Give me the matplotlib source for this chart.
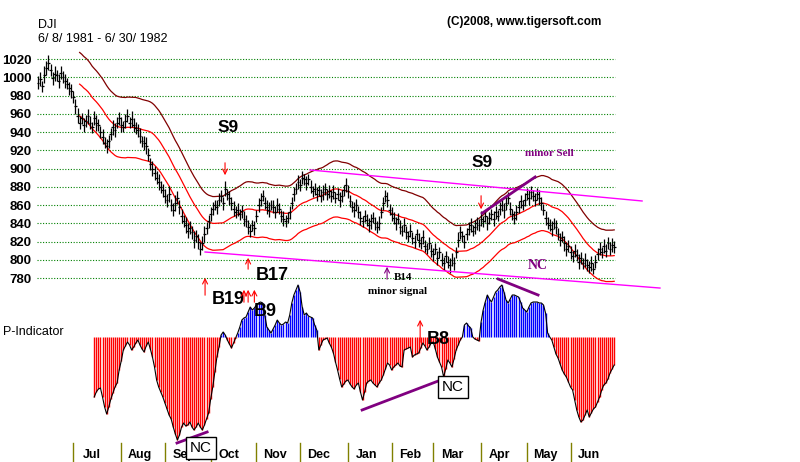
# %%
import numpy as np
import pandas as pd
import matplotlib
matplotlib.use('Agg')
import matplotlib.pyplot as plt

# %%
# DJI daily closes, 6/8/1981 - 6/30/1982
close = [994, 998, 990, 1003, 1010,
         1016, 1008, 999, 1004, 1002, 996, 1005,
         1000, 996, 993, 988, 985, 978,
         968, 958, 950, 955, 948,
         952, 957, 950, 945, 955, 950, 948, 940,
         935, 928, 925, 930, 938, 945,
         942, 950, 955, 948, 946, 952, 958, 950, 954, 948, 944,
         942, 936, 930, 928, 925, 915, 905,
         900, 895, 890, 885, 880, 876,
         870, 865, 872, 860, 855, 862,
         868, 858, 848, 842,
         838, 832, 835, 830, 822, 826,
         820, 812, 818, 828,
         835, 842, 850, 856, 860, 858,
         866, 870, 862, 878, 872, 868,
         862, 856, 852, 855, 850, 853,
         845, 842, 836, 832, 838, 835,
         848, 860, 866, 870, 862, 858,
         855, 860, 858, 852, 860, 856,
         848, 845, 842, 846, 852, 862,
         872, 878, 885, 882, 890, 888,
         884, 888, 880, 875, 878, 872,
         876, 870, 874, 878, 872, 875,
         870, 874, 868, 872, 866, 870,
         876, 882, 875, 864, 858, 855,
         860, 852, 846, 842, 848, 844,
         838, 842, 846, 840, 836, 840,
         852, 862, 870, 866, 855, 850,
         846, 840, 845, 836, 832, 838,
         830, 826, 832, 824, 820, 828,
         822, 818, 825, 815, 812, 818,
         810, 806, 812, 802, 808, 800,
         796, 804, 798, 794, 800, 796,
         808, 822, 830, 826, 820, 828,
         834, 838, 832, 836, 840, 838,
         845, 842, 848, 840, 846, 850,
         845, 852, 848, 856, 860, 854,
         862, 868, 856, 850, 846, 852,
         858, 864, 860, 866, 872, 868,
         874, 870, 866, 872, 868, 862,
         855, 846, 840, 838, 834, 840,
         836, 828, 822, 825, 818, 812,
         815, 808, 804, 810, 805, 798,
         802, 796, 800, 794, 792, 796,
         790, 798, 806, 812, 808, 815,
         810, 818, 812, 816, 814]

# daily high-low range (points)
day_range = [14, 16, 12, 18, 15, 17, 13, 14, 16, 12, 15, 14, 13, 16, 12, 14, 15, 13, 17, 16,
             14, 12, 15, 13, 16, 14, 12, 15, 17, 13, 14, 16, 12, 15, 14, 13, 17, 15, 12, 14,
             16, 13, 15, 14, 12, 17, 15, 13, 14, 16, 12, 15, 18, 14, 13, 16, 15, 14, 17, 13,
             15, 16, 14, 18, 13, 15, 17, 14, 16, 15, 13, 17, 16, 14, 15, 18, 13, 16, 14, 15,
             17, 13, 15, 16, 14, 12, 16, 15, 13, 14, 17, 12, 15, 14, 16, 13, 15, 12, 14, 16,
             13, 15, 14, 12, 16, 13, 15, 14, 12, 13, 15, 16, 12, 14, 13, 15, 12, 14, 16, 13,
             12, 14, 13, 15, 12, 16, 13, 14, 12, 15, 13, 14, 12, 13, 15, 12, 14, 16, 13, 12,
             14, 13, 15, 12, 14, 16, 13, 12, 15, 14, 13, 12, 16, 14, 13, 15, 12, 14, 13, 15,
             16, 12, 14, 13, 15, 12, 14, 13, 16, 12, 15, 13, 14, 12, 15, 13, 16, 14, 12, 15,
             13, 14, 12, 15, 13, 16, 14, 12, 13, 15, 14, 12, 16, 13, 14, 15, 12, 13, 16, 14,
             15, 13, 16, 14, 12, 15, 13, 14, 16, 12, 15, 14, 13, 16, 12, 14, 15, 13, 12, 16,
             14, 12, 15, 13, 16, 14, 13, 15, 12, 14, 16, 13, 15, 12, 14, 13, 16, 14, 12, 15,
             13, 16, 14, 12, 15, 13, 14, 16, 12, 15, 13, 14, 12, 16, 15, 13, 14, 12, 15, 13,
             16, 14, 12, 15, 13, 14, 16, 12, 15, 13, 14, 12, 16, 15, 13, 14, 15, 13]

# P-Indicator, starts on trading day 27
p_start = 27
p_ind = [-60, -55, -52, -51, -60, -70, -77, -70, -62, -56,
         -50, -46, -33, -24, -13, -9, -5, -8, -13, -10,
         -6, -3, -8, -12, -15, -9, -5, -12, -20, -30,
         -43, -50, -55, -60, -66, -72, -78, -82, -90, -97,
         -103, -98, -90, -86, -89, -88, -85, -90, -93, -90,
         -86, -90, -93, -88, -82, -76, -62, -50, -35, -20,
         -10, 2, 5, 2, -3, -7, -11, -6, -1, 4,
         10, 17, 19, 20, 25, 30, 27, 29, 32, 34,
         35, 34, 22, 10, 7, 4, 8, 12, 17, 14,
         12, 13, 15, 14, 22, 34, 42, 47, 52, 45,
         30, 22, 24, 21, 20, 19, 12, 7, -13, -8,
         -3, -2, -1, -6, -10, -16, -25, -33, -42, -50,
         -47, -44, -43, -47, -50, -52, -48, -46, -55, -63,
         -55, -46, -44, -43, -46, -48, -50, -46, -43, -38,
         -32, -26, -28, -33, -30, -28, -26, -29, -30, -13,
         -12, -11, -10, -20, -18, -17, -16, -11, -6, -9,
         -13, -10, -6, -5, -12, -20, -25, -30, -40, -32,
         -23, -26, -30, -22, -13, -8, -3, 0, 12, 14,
         11, 9, 0, -2, -3, -4, 15, 27, 35, 42,
         38, 35, 40, 45, 47, 50, 52, 45, 37, 34,
         38, 42, 42, 41, 40, 35, 29, 27, 25, 30,
         34, 35, 35, 35, 34, 34, 32, 24, 4, 0,
         -3, -10, -17, -21, -27, -33, -37, -40, -45, -50,
         -53, -63, -73, -80, -85, -83, -78, -73, -80, -76,
         -72, -70, -65, -60, -53, -48, -46, -42, -36, -32,
         -28]

# trend lines (day index, price / indicator value)
upper_trend_x, upper_trend_y = [130.8, 290.4], [898.4, 864.4]
lower_trend_x, lower_trend_y = [80.3, 299.0], [808.5, 769.0]
price_nc_x, price_nc_y = [213.5, 239.0], [851.0, 890.7]
ind_nc_lines = [([66.8, 81.3], [-106, -95]),
                ([155.8, 196.2], [-73, -41]),
                ([221.2, 240.4], [58, 42])]

levels = list(range(780, 1021, 20))

# %%
n = min(len(close), len(day_range))
close = np.array(close[:n], dtype=float)
rng = np.array(day_range[:n], dtype=float)
high = close + rng * 0.5
low = close - rng * 0.5
idx = np.arange(n)
dates = pd.bdate_range('1981-06-08', periods=n)

ma = pd.Series(close).rolling(21).mean()
band_up = ma * 1.035
band_dn = ma * 0.965

ind = np.full(n, np.nan)
m = min(len(p_ind), n - p_start)
ind[p_start:p_start + m] = p_ind[:m]

month_start = [i for i in range(1, n) if dates[i].month != dates[i - 1].month]

# %%
W, H = 800, 462
fig = plt.figure(figsize=(8, 4.62), dpi=100)
fig.patch.set_facecolor('white')


def frac(x0, y0, x1, y1):
    return [x0 / W, 1 - y1 / H, (x1 - x0) / W, (y1 - y0) / H]


xlim = (-0.5, -0.5 + 628 / 2.08)
sans = 'Liberation Sans'
serif = 'Liberation Serif'
purple = '#800080'

ax = fig.add_axes(frac(37, 40.75, 665, 296.25))
ax.set_xlim(*xlim)
ax.set_ylim(760, 1040)
ax.patch.set_alpha(0)
for s in ax.spines.values():
    s.set_visible(False)
ax.set_xticks([])
ax.set_yticks(levels)
ax.set_yticklabels([str(v) for v in levels], fontsize=9.5, fontweight='bold', family=sans)
ax.tick_params(axis='y', length=0, pad=4)

# grid
ax.hlines(levels, -0.5, n - 0.5, colors='#008000', linestyles=(0, (1, 1.5)), lw=0.8)

# bands
ax.plot(idx, band_up, color='#800000', lw=0.9)
ax.plot(idx, ma, color='#ff0000', lw=0.9)
ax.plot(idx, band_dn, color='#ff0000', lw=0.9)

# price bars
ax.vlines(idx, low, high, colors='black', lw=0.9)
ax.hlines(close, idx - 0.7, idx + 0.7, colors='black', lw=0.9)

# trend lines
ax.plot(upper_trend_x, upper_trend_y, color='#ff00ff', lw=1)
ax.plot(lower_trend_x, lower_trend_y, color='#ff00ff', lw=1)
ax.plot(price_nc_x, price_nc_y, color=purple, lw=2)

# signal labels on price panel
ax.text(91.3, 944.4, 'S9', fontsize=12.5, fontweight='bold', family=sans, ha='center', va='center')
ax.text(213.5, 907, 'S9', fontsize=12.5, fontweight='bold', family=sans, ha='center', va='center')
ax.text(234.1, 915.9, 'minor Sell', fontsize=8, fontweight='bold', family=serif, color=purple,
        ha='left', va='center')
ax.text(112.5, 782.2, 'B17', fontsize=13, fontweight='bold', family=sans, ha='center', va='center')
ax.text(175.5, 781, 'B14', fontsize=8, fontweight='bold', family=serif, ha='center', va='center')
ax.text(173, 764.7, 'minor signal', fontsize=8, fontweight='bold', family=serif, ha='center', va='center')
ax.text(240.4, 793.2, 'NC', fontsize=10, fontweight='bold', family=serif, color=purple,
        ha='center', va='center')

arr = dict(arrowstyle='->', color='red', lw=0.8, mutation_scale=9)
ax.annotate('', xy=(89.9, 889.6), xytext=(89.9, 909.3), arrowprops=arr, annotation_clip=False)
ax.annotate('', xy=(213, 852.3), xytext=(213, 873.2), arrowprops=arr, annotation_clip=False)
ax.annotate('', xy=(101, 805.2), xytext=(101, 786.6), arrowprops=arr, annotation_clip=False)
ax.annotate('', xy=(80.3, 783.3), xytext=(80.3, 758.1), arrowprops=arr, annotation_clip=False)
ax.annotate('', xy=(167.8, 795.3), xytext=(167.8, 775.6),
            arrowprops=dict(arrowstyle='->', color=purple, lw=0.8, mutation_scale=9),
            annotation_clip=False)

# %%
ax2 = fig.add_axes(frac(37, 270, 665, 462))
ax2.set_xlim(*xlim)
ax2.set_ylim(-125, 67)
ax2.axis('off')

ok = ~np.isnan(ind)
cols = np.where(ind[ok] > 0, '#0000ff', '#ff0000')
ax2.vlines(idx[ok], 0, ind[ok], colors=cols, lw=1.0)
ax2.plot(idx[ok], ind[ok], color='black', lw=0.8)

for xs, ys in ind_nc_lines:
    ax2.plot(xs, ys, color=purple, lw=2)

for i in month_start:
    ax2.plot([i, i], [-106, -125], color='#808000', lw=1)
    ax2.text(i + 9, -118, dates[i].strftime('%b'), fontsize=9, fontweight='bold', family=sans,
             ha='center', va='center')

ax2.text(91.3, 37, 'B19', fontsize=13, fontweight='bold', family=sans, ha='center', va='center')
for xa in [99.0, 101.0, 104.0]:
    ax2.annotate('', xy=(xa, 50), xytext=(xa, 32), arrowprops=arr, annotation_clip=False)
ax2.text(109.1, 25, 'B9', fontsize=13, fontweight='bold', family=sans, ha='center', va='center')
ax2.annotate('', xy=(183.7, 20), xytext=(183.7, -8), arrowprops=arr, annotation_clip=False)
ax2.text(192.3, -3, 'B8', fontsize=13, fontweight='bold', family=sans, ha='center', va='center')

box = dict(boxstyle='square,pad=0.25', fc='white', ec='black', lw=1)
ax2.text(78.4, -111, 'NC', fontsize=11, family=sans, ha='center', va='center', bbox=box, zorder=5)
ax2.text(199.5, -50, 'NC', fontsize=11, family=sans, ha='center', va='center', bbox=box, zorder=5)

# %%
fig.text(38 / W, 1 - 25 / H, 'DJI', fontsize=9, family=sans, va='center')
fig.text(38 / W, 1 - 39.5 / H, '6/ 8/ 1981 - 6/ 30/ 1982', fontsize=9, family=sans, va='center')
fig.text(447 / W, 1 - 22 / H, '(C)2008, www.tigersoft.com', fontsize=8.5, fontweight='bold',
         family=sans, va='center')
fig.text(3 / W, 1 - 332 / H, 'P-Indicator', fontsize=9, family=sans, va='center')

fig.savefig('out.png', dpi=100)
